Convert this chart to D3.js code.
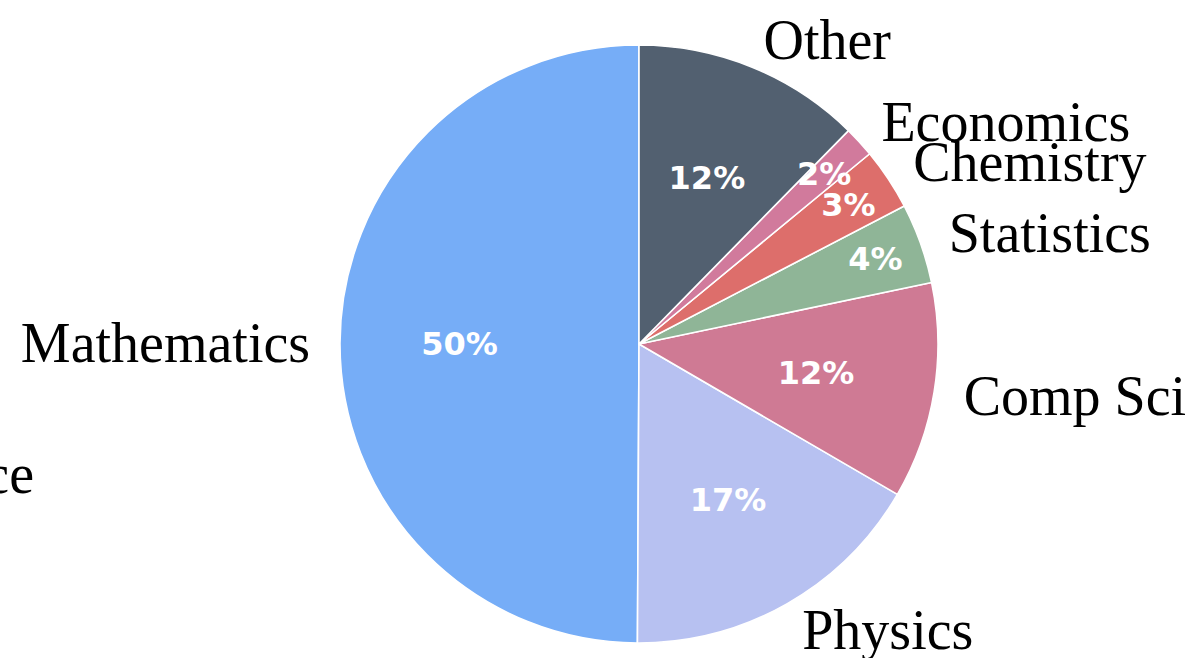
<!DOCTYPE html>
<html>
<head>
<meta charset="utf-8">
<script src="https://cdn.jsdelivr.net/npm/d3@7/dist/d3.min.js"></script>
<style>
  html, body { margin: 0; padding: 0; background: #ffffff; }
  svg { display: block; }
</style>
</head>
<body>
<svg id="chart" width="1197" height="658"></svg>
<script>
// Enrolment by field (counts)
const categories = ["Mathematics", "Physics", "Comp Sci", "Statistics", "Chemistry", "Economics", "Other"];
const counts = [299, 100, 70, 26, 20, 10, 74];
const colors = ["#76adf7", "#b7c1f1", "#cf7a94", "#8fb597", "#dd6e6b", "#d17a9c", "#526070"];

const width = 1197, height = 658;
const cx = 639, cy = 344, radius = 299;

const svg = d3.select("#chart");
const g = svg.append("g").attr("transform", `translate(${cx},${cy})`);

const total = d3.sum(counts);
const data = categories.map((c, i) => ({ name: c, value: counts[i], color: colors[i] }));

// wedges run counter-clockwise starting from 12 o'clock
const pie = d3.pie().sort(null).value(d => d.value)
  .startAngle(0).endAngle(-2 * Math.PI);
const arcs = pie(data);

const arc = d3.arc().innerRadius(0).outerRadius(radius);

g.selectAll("path.wedge")
  .data(arcs)
  .enter().append("path")
  .attr("class", "wedge")
  .attr("d", arc)
  .attr("fill", d => d.data.color)
  .attr("stroke", "#ffffff")
  .attr("stroke-width", 1.6)
  .attr("stroke-linejoin", "round");

const mid = d => (d.startAngle + d.endAngle) / 2;
const share = d => d.data.value / total;

// category labels just outside the rim
g.selectAll("text.cat")
  .data(arcs)
  .enter().append("text")
  .attr("class", "cat")
  .attr("x", d => 1.1 * radius * Math.sin(mid(d)))
  .attr("y", d => -1.1 * radius * Math.cos(mid(d)))
  .attr("text-anchor", d => Math.sin(mid(d)) > 0 ? "start" : "end")
  .attr("dominant-baseline", "central")
  .style("font-family", "'Liberation Serif', 'DejaVu Serif', serif")
  .style("font-size", "56px")
  .style("fill", "#000000")
  .text(d => d.data.name);

// percentage labels inside each wedge; thin wedges get them nearer the rim
const pctDist = d => share(d) < 0.05 ? 0.84 : 0.6;
g.selectAll("text.pct")
  .data(arcs)
  .enter().append("text")
  .attr("class", "pct")
  .attr("x", d => pctDist(d) * radius * Math.sin(mid(d)))
  .attr("y", d => -pctDist(d) * radius * Math.cos(mid(d)))
  .attr("text-anchor", "middle")
  .attr("dominant-baseline", "central")
  .style("font-family", "'DejaVu Sans', sans-serif")
  .style("font-weight", "bold")
  .style("font-size", "32px")
  .style("fill", "#ffffff")
  .text(d => Math.round(share(d) * 100) + "%");

// trailing fragment of a neighbouring label at the left edge
svg.append("text")
  .attr("x", 34)
  .attr("y", 474)
  .attr("text-anchor", "end")
  .attr("dominant-baseline", "central")
  .style("font-family", "'Liberation Serif', 'DejaVu Serif', serif")
  .style("font-size", "56px")
  .style("fill", "#000000")
  .text("ce");
</script>
</body>
</html>
